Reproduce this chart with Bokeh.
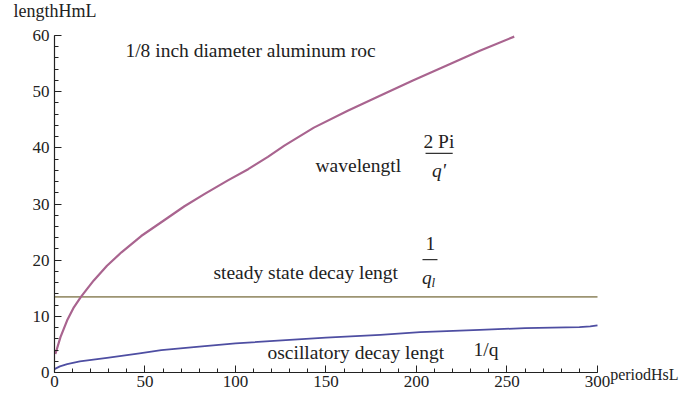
from bokeh.plotting import figure
from bokeh.models import Range1d, SingleIntervalTicker
from bokeh.core.properties import value
from bokeh.embed import file_html
from bokeh.resources import INLINE

# ---- data ----
wave_period = [0.5, 3.3, 7, 10.7, 14.7, 21.7, 29, 37, 47.9, 61, 71.8, 83, 95.8, 107, 117.9,
               127, 143.3, 162, 180.1, 198, 217, 235, 254]
wavelength = [3.3, 6.3, 9.3, 11.6, 13.5, 16.4, 19.0, 21.4, 24.3, 27.2, 29.6, 31.8, 34.2, 36.2, 38.4,
              40.4, 43.6, 46.6, 49.3, 52.0, 54.7, 57.3, 59.8]

osc_period = [0, 3, 7, 14, 29, 47, 59, 80, 100, 130, 150, 180, 202, 235, 260, 290, 296, 300]
osc_decay = [0.6, 1.1, 1.5, 2.0, 2.6, 3.4, 4.0, 4.6, 5.2, 5.8, 6.2, 6.7, 7.2, 7.6, 7.9, 8.1, 8.2, 8.4]

steady_period = [0, 300]
steady_decay = [13.46, 13.46]

x_axis_bounds = (0, 300)
y_axis_bounds = (0, 60)
x_ticks_interval = 50
y_ticks_interval = 10

# text annotations (data coordinates)
left_texts = ["1/8 inch diameter aluminum roc", "wavelengtl", "steady state decay lengt",
              "oscillatory decay lengt", "1/q"]
left_x = [39.2, 144.2, 87.8, 117.7, 231.5]
left_y = [57.3, 36.9, 17.8, 3.57, 4.1]

num_texts = ["2 Pi", "1"]
num_x = [212.4, 207.7]
num_y = [41.1, 23.0]

den_texts = ["q'", "q"]
den_x = [212.4, 205.8]
den_y = [36.0, 16.9]

bar_x0 = [205.0, 203.3]
bar_x1 = [220.0, 211.6]
bar_y = [39.0, 20.1]

axis_title_texts = ["lengthHmL", "periodHsL"]
axis_title_x = [-22.7, 307.0]
axis_title_y = [64.4, -0.35]
axis_title_sizes = ["18px", "16px"]

FONT = "Liberation Serif"
TXT = "#222222"

p = figure(width=680, height=395,
           x_range=Range1d(-29.83, 345.86), y_range=Range1d(-4.09, 66.23),
           output_backend="svg", toolbar_location=None, min_border=0)
p.grid.visible = False
p.outline_line_color = None

p.xaxis.ticker = SingleIntervalTicker(interval=x_ticks_interval, num_minor_ticks=5)
p.yaxis.ticker = SingleIntervalTicker(interval=y_ticks_interval, num_minor_ticks=5)
p.xaxis.fixed_location = 0
p.yaxis.fixed_location = 0
p.xaxis.bounds = x_axis_bounds
p.yaxis.bounds = y_axis_bounds
for ax in (p.xaxis, p.yaxis):
    ax.axis_line_color = "#222222"
    ax.axis_line_width = 1.2
    ax.major_tick_line_color = "#222222"
    ax.minor_tick_line_color = "#222222"
    ax.major_tick_in = 7
    ax.major_tick_out = 0
    ax.minor_tick_in = 4
    ax.minor_tick_out = 0
    ax.major_label_text_font = FONT
    ax.major_label_text_font_size = "17px"
    ax.major_label_text_color = TXT
p.xaxis.major_label_standoff = 3
p.yaxis.major_label_standoff = 5

# curves
p.line(steady_period, steady_decay, line_color="#9C9472", line_width=1.6)
p.line(osc_period, osc_decay, line_color="#4E4EA2", line_width=1.8, line_join="round")
p.line(wave_period, wavelength, line_color="#A9648F", line_width=2.2, line_join="round")

# labels
p.text(x=left_x, y=left_y, text=left_texts, text_font=value(FONT), text_font_size="19.5px",
       text_color=TXT, text_baseline="alphabetic", text_align="left")
p.text(x=num_x, y=num_y, text=num_texts, text_font=value(FONT), text_font_size="19.5px",
       text_color=TXT, text_baseline="alphabetic", text_align="center")
p.text(x=den_x, y=den_y, text=den_texts, text_font=value(FONT), text_font_size="19.5px",
       text_font_style="italic", text_color=TXT, text_baseline="alphabetic", text_align="center")
p.text(x=[208.3], y=[16.1], text=["l"], text_font=value(FONT), text_font_size="13px",
       text_font_style="italic", text_color=TXT, text_baseline="alphabetic", text_align="left")
p.segment(x0=bar_x0, y0=bar_y, x1=bar_x1, y1=bar_y, line_color="#333333", line_width=1.2)

# axis titles (Mathematica style)
for t, tx, ty, fs in zip(axis_title_texts, axis_title_x, axis_title_y, axis_title_sizes):
    p.text(x=[tx], y=[ty], text=[t], text_font=value(FONT), text_font_size=fs,
           text_color=TXT, text_baseline="alphabetic", text_align="left")

open("out.html", "w").write(file_html(p, INLINE))
